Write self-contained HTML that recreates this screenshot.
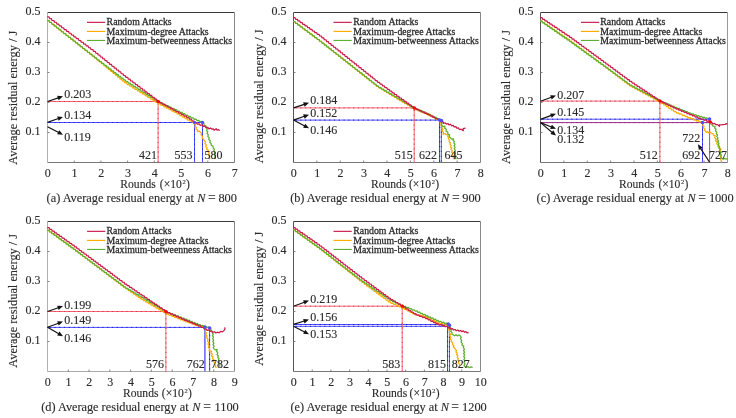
<!DOCTYPE html>
<html><head><meta charset="utf-8"><title>Average residual energy</title><style>
html,body{margin:0;padding:0;background:#fff;width:736px;height:418px;overflow:hidden}
svg{display:block;filter:blur(0.4px);}
text{font-family:"Liberation Serif", serif;fill:#2a2a2a;stroke:#2a2a2a;stroke-width:0.12px;}
.lg{stroke:#2a2a2a;stroke-width:0.28px}
</style></head><body>
<svg width="736" height="418" viewBox="0 0 736 418">
<rect width="736" height="418" fill="#fff"/>
<g fill="none">
<path d="M47.5 12.5H234.5" stroke="#3a3a3a" stroke-width="1"/>
<path d="M234.5 12.5V162.5" stroke="#888" stroke-width="1"/>
<path d="M47.5 162.5H234.5" stroke="#777" stroke-width="1"/>
<path d="M47.5 12.5V162.5" stroke="#b0b0b0" stroke-width="1"/>
<path d="M74.21 162.5V160.5" stroke="#777" stroke-width="0.9"/>
<path d="M100.93 162.5V160.5" stroke="#777" stroke-width="0.9"/>
<path d="M127.64 162.5V160.5" stroke="#777" stroke-width="0.9"/>
<path d="M154.36 162.5V160.5" stroke="#777" stroke-width="0.9"/>
<path d="M181.07 162.5V160.5" stroke="#777" stroke-width="0.9"/>
<path d="M207.79 162.5V160.5" stroke="#777" stroke-width="0.9"/>
<path d="M47.5 132.50H49.5" stroke="#777" stroke-width="0.9"/>
<path d="M47.5 102.50H49.5" stroke="#777" stroke-width="0.9"/>
<path d="M47.5 72.50H49.5" stroke="#777" stroke-width="0.9"/>
<path d="M47.5 42.50H49.5" stroke="#777" stroke-width="0.9"/>
<text x="40.50" y="134.80" font-size="12" text-anchor="end" >0.1</text>
<text x="40.50" y="104.80" font-size="12" text-anchor="end" >0.2</text>
<text x="40.50" y="74.80" font-size="12" text-anchor="end" >0.3</text>
<text x="40.50" y="44.80" font-size="12" text-anchor="end" >0.4</text>
<text x="40.50" y="14.80" font-size="12" text-anchor="end" >0.5</text>
<text x="47.80" y="176.50" font-size="12" text-anchor="middle" >0</text>
<text x="74.51" y="176.50" font-size="12" text-anchor="middle" >1</text>
<text x="101.23" y="176.50" font-size="12" text-anchor="middle" >2</text>
<text x="127.94" y="176.50" font-size="12" text-anchor="middle" >3</text>
<text x="154.66" y="176.50" font-size="12" text-anchor="middle" >4</text>
<text x="181.37" y="176.50" font-size="12" text-anchor="middle" >5</text>
<text x="208.09" y="176.50" font-size="12" text-anchor="middle" >6</text>
<text x="234.80" y="176.50" font-size="12" text-anchor="middle" >7</text>
<path d="M47.5 101.5H158.1" stroke="#f46474" stroke-width="1.0"/>
<path d="M49.5 101.5H158.1" stroke="#e8303f" stroke-width="1.0" stroke-dasharray="1.2 3.6"/>
<path d="M47.5 122.5H202.6" stroke="#4d4dff" stroke-width="1.0"/>
<path d="M49.5 122.5H202.6" stroke="#1c1ce6" stroke-width="1.0" stroke-dasharray="1.2 3.6"/>
<path d="M158.1 101.5V162.5" stroke="#f46474" stroke-width="1.0"/>
<path d="M158.1 103.5V162.5" stroke="#e8303f" stroke-width="1.0" stroke-dasharray="1.2 3.6"/>
<path d="M194.5 122.5V162.5" stroke="#4d4dff" stroke-width="1.0"/>
<path d="M194.5 124.5V162.5" stroke="#1c1ce6" stroke-width="1.0" stroke-dasharray="1.2 3.6"/>
<path d="M202.5 122.5V162.5" stroke="#4d4dff" stroke-width="1.0"/>
<path d="M202.5 124.5V162.5" stroke="#1c1ce6" stroke-width="1.0" stroke-dasharray="1.2 3.6"/>
<polyline points="47.19,20.39 49.00,20.55 49.56,22.27 51.37,22.43 51.94,24.15 53.75,24.31 54.31,26.03 56.12,26.19 56.69,27.91 58.50,28.07 59.06,29.79 60.87,29.95 61.44,31.67 63.25,31.83 63.81,33.55 65.62,33.71 66.19,35.43 68.00,35.59 68.56,37.31 70.37,37.47 70.94,39.19 72.75,39.35 73.31,41.07 75.12,41.23 75.69,42.95 77.50,43.11 78.06,44.83 79.87,44.99 80.44,46.71 82.25,46.87 82.81,48.59 84.62,48.75 85.19,50.47 87.00,50.63 87.56,52.35 89.37,52.51 89.94,54.23 91.75,54.39 92.31,56.11 94.12,56.27 94.68,57.98 96.47,58.17 96.99,59.90 98.78,60.09 99.30,61.82 101.09,62.00 101.60,63.73 103.40,63.92 103.91,65.65 105.70,65.83 106.22,67.56 108.01,67.75 108.53,69.48 110.32,69.67 110.83,71.39 112.63,71.58 113.14,73.31 114.93,73.50 115.45,75.22 117.24,75.41 117.76,77.14 119.55,77.33 120.07,79.05 121.86,79.24 122.37,80.97 124.17,81.16 124.74,82.92 126.56,82.88 127.33,84.54 129.15,84.50 129.92,86.16 131.75,86.11 132.51,87.77 134.34,87.73 135.10,89.39 136.93,89.34 137.70,91.00 139.52,90.96 140.29,92.62 142.11,92.58 142.88,94.23 144.71,94.19 145.47,95.85 147.30,95.81 148.07,97.46 149.89,97.42 150.66,99.08 152.48,99.04 153.25,100.69 155.08,100.65 155.84,102.31 157.67,102.27 158.47,103.94 160.29,103.76 161.19,105.36 163.01,105.18 163.90,106.78 165.72,106.60 166.62,108.19 168.44,108.01 169.34,109.61 171.16,109.43 172.05,111.03 173.87,110.85 174.75,112.43 176.55,112.34 177.35,113.97 179.15,113.88 179.95,115.51 181.75,115.42 182.55,117.05 184.35,116.96 185.15,118.59 186.95,118.50 187.80,120.16 189.46,119.78 190.32,121.24 191.98,120.86 192.84,122.32 194.78,122.26 194.19,123.84 195.53,124.86 194.94,126.44 196.25,127.38 195.95,129.02 197.45,129.78 197.50,131.69 199.20,131.01 200.12,131.95 201.56,133.19 201.08,135.03 202.52,136.27 202.04,138.11 203.28,139.08 204.31,140.82 205.65,142.02 205.03,143.70 206.37,144.90 205.75,146.58 207.05,147.68 206.75,149.32 208.25,150.08 207.91,151.61 209.23,152.95 208.59,154.73 209.91,156.07 209.27,157.85 210.10,159.30" fill="none" stroke="#ffab00" stroke-width="1.25" stroke-linejoin="round"/>
<polyline points="47.19,20.39 49.00,20.54 49.57,22.26 51.37,22.41 51.94,24.13 53.75,24.28 54.32,26.00 56.12,26.15 56.69,27.87 58.50,28.02 59.07,29.74 60.87,29.89 61.44,31.61 63.25,31.76 63.82,33.48 65.62,33.63 66.19,35.35 68.00,35.50 68.57,37.22 70.37,37.37 70.94,39.09 72.75,39.24 73.32,40.96 75.12,41.11 75.69,42.83 77.50,42.98 78.07,44.70 79.87,44.85 80.44,46.57 82.25,46.72 82.82,48.44 84.62,48.59 85.19,50.31 87.00,50.46 87.57,52.18 89.37,52.33 89.94,54.05 91.75,54.20 92.32,55.92 94.12,56.07 94.70,57.80 96.50,57.92 97.10,59.64 98.90,59.76 99.50,61.48 101.30,61.60 101.90,63.32 103.70,63.44 104.30,65.16 106.10,65.28 106.70,67.00 108.50,67.12 109.10,68.84 110.90,68.96 111.50,70.68 113.30,70.80 113.90,72.52 115.70,72.64 116.30,74.36 118.10,74.48 118.70,76.20 120.50,76.32 121.10,78.04 122.90,78.16 123.50,79.88 125.27,79.98 125.98,81.61 127.76,81.56 128.48,83.20 130.26,83.15 130.97,84.79 132.76,84.73 133.47,86.37 135.25,86.32 135.97,87.96 137.75,87.90 138.46,89.54 140.25,89.49 140.96,91.13 142.74,91.07 143.45,92.71 145.24,92.66 145.95,94.30 147.73,94.24 148.45,95.88 150.23,95.83 150.94,97.47 152.73,97.41 153.44,99.05 155.22,99.00 155.94,100.64 157.72,100.59 158.49,102.25 160.27,101.99 161.20,103.54 162.99,103.27 163.92,104.82 165.71,104.56 166.64,106.10 168.42,105.84 169.35,107.39 171.14,107.12 172.07,108.67 173.86,108.41 174.78,109.95 176.58,109.71 177.51,111.28 179.31,111.04 180.24,112.60 182.04,112.37 182.96,113.93 184.76,113.70 185.69,115.26 187.49,115.02 188.42,116.59 190.22,116.35 191.28,117.98 193.22,117.80 194.28,119.43 196.19,119.24 197.11,120.70 198.79,120.32 199.71,121.78 201.39,121.40 202.11,122.71 203.92,123.39 204.16,125.31 205.97,125.99 206.11,127.68 207.33,128.96 206.59,130.56 207.81,131.84 207.07,133.44 208.28,134.65 207.81,136.44 209.24,137.61 208.77,139.40 210.21,140.58 209.74,142.37 211.11,143.41 211.29,145.39 213.11,146.21 213.21,147.98 214.45,149.36 213.72,151.07 214.96,152.45 214.24,154.15 215.48,155.53 214.75,157.24 215.50,158.70" fill="none" stroke="#5cb030" stroke-width="1.25" stroke-linejoin="round"/>
<polyline points="47.20,16.80 49.02,16.91 49.64,18.62 51.45,18.72 52.07,20.43 53.89,20.54 54.51,22.25 56.32,22.35 56.94,24.06 58.76,24.17 59.38,25.88 61.20,25.98 61.82,27.69 63.63,27.80 64.25,29.51 66.07,29.61 66.69,31.32 68.50,31.43 69.12,33.14 70.94,33.25 71.56,34.95 73.38,35.06 74.00,36.77 75.81,36.88 76.43,38.59 78.25,38.69 78.87,40.40 80.68,40.51 81.30,42.22 83.12,42.32 83.74,44.03 85.56,44.14 86.18,45.85 87.99,45.95 88.61,47.66 90.43,47.77 91.05,49.48 92.86,49.58 93.48,51.29 95.31,51.41 95.84,53.12 97.62,53.27 98.15,54.98 99.93,55.13 100.46,56.84 102.24,57.00 102.76,58.70 104.54,58.86 105.07,60.57 106.85,60.72 107.38,62.43 109.16,62.58 109.69,64.29 111.47,64.44 111.99,66.15 113.78,66.30 114.30,68.01 116.08,68.16 116.61,69.87 118.39,70.03 118.92,71.74 120.70,71.89 121.22,73.60 123.01,73.75 123.53,75.46 125.30,75.60 125.90,77.30 127.70,77.41 128.30,79.11 130.10,79.22 130.70,80.92 132.50,81.02 133.10,82.73 134.90,82.83 135.50,84.54 137.30,84.64 137.90,86.34 139.70,86.45 140.30,88.15 142.10,88.26 142.70,89.96 144.50,90.06 145.10,91.77 146.90,91.87 147.50,93.58 149.30,93.68 149.90,95.38 151.70,95.49 152.30,97.19 154.10,97.30 154.69,98.99 156.55,99.21 157.15,100.99 158.94,101.16 159.82,102.78 161.66,102.64 162.54,104.26 164.37,104.13 165.25,105.75 167.09,105.61 167.97,107.23 169.81,107.09 170.69,108.71 172.52,108.58 173.40,110.20 175.24,110.06 176.12,111.68 177.97,111.55 178.85,113.18 180.69,113.04 181.58,114.67 183.42,114.53 184.31,116.16 186.15,116.02 187.03,117.65 188.88,117.52 189.70,119.10 191.50,119.20 192.10,120.90 193.90,121.00 194.50,122.70 196.17,122.73 197.33,124.22 199.17,123.83 200.33,125.32 202.20,124.94 203.20,126.46 205.00,126.14 206.00,127.66 207.80,127.34 208.97,128.90 210.53,128.00 211.74,129.03 213.26,128.77 214.14,130.28 216.18,128.73 217.06,130.13 218.64,129.67 219.70,130.60" fill="none" stroke="#cc1a48" stroke-width="1.25" stroke-linejoin="round"/>
<circle cx="158.2" cy="101.6" r="1.7" fill="#f00"/>
<circle cx="194.4" cy="122.4" r="1.7" fill="#4d4dff"/>
<circle cx="202.5" cy="122.4" r="1.7" fill="#4d4dff"/>
<line x1="47.50" y1="101.50" x2="58.35" y2="97.86" stroke="#111" stroke-width="1.15"/>
<polygon points="63.00,96.30 58.61,100.20 57.15,95.84" fill="#111"/>
<text x="64.30" y="98.20" font-size="12" text-anchor="start" >0.203</text>
<line x1="47.50" y1="122.40" x2="58.38" y2="118.54" stroke="#111" stroke-width="1.15"/>
<polygon points="63.00,116.90 58.68,120.87 57.14,116.54" fill="#111"/>
<text x="64.30" y="118.70" font-size="12" text-anchor="start" >0.134</text>
<line x1="47.50" y1="126.70" x2="58.66" y2="132.53" stroke="#111" stroke-width="1.15"/>
<polygon points="63.00,134.80 57.15,134.34 59.28,130.26" fill="#111"/>
<text x="64.30" y="140.70" font-size="12" text-anchor="start" >0.119</text>
<text x="139.10" y="158.90" font-size="12" text-anchor="start" >421</text>
<text x="174.50" y="158.90" font-size="12" text-anchor="start" >553</text>
<text x="204.50" y="158.90" font-size="12" text-anchor="start" >580</text>
<path d="M87 22.35H105.2" stroke="#cc1a48" stroke-width="1.15"/>
<text x="106.60" y="25.45" font-size="9.8" text-anchor="start" class="lg">Random Attacks</text>
<path d="M87 31.40H105.2" stroke="#ffab00" stroke-width="1.15"/>
<text x="106.60" y="34.50" font-size="9.8" text-anchor="start" class="lg">Maximum-degree Attacks</text>
<path d="M87 40.45H105.2" stroke="#5cb030" stroke-width="1.15"/>
<text x="106.60" y="43.55" font-size="9.8" text-anchor="start" class="lg">Maximum-betweenness Attacks</text>
<text x="120.35" y="187.70" font-size="11.6" text-anchor="start" >Rounds</text>
<text x="159.80" y="187.70" font-size="11.6" text-anchor="start" >(&#215;10<tspan font-size="6.4" dx="0.7" dy="-3.7">2</tspan><tspan dx="0.3" dy="3.7">)</tspan></text>
<text x="0" y="0" font-size="12.35" text-anchor="middle" transform="translate(16.80,97.7) rotate(-90)">Average residual energy / J</text>
<text x="46.55" y="201.70" font-size="12.3" text-anchor="start" textLength="147.3">(a) Average residual energy at</text>
<text x="197.16" y="201.70" font-size="12.3" text-anchor="start" font-style="italic">N</text>
<text x="207.88" y="201.70" font-size="13.7" text-anchor="start" >=</text>
<text x="218.41" y="201.70" font-size="12.4" text-anchor="start" >800</text>
<path d="M293.5 12.5H480.5" stroke="#3a3a3a" stroke-width="1"/>
<path d="M480.5 12.5V162.5" stroke="#888" stroke-width="1"/>
<path d="M293.5 162.5H480.5" stroke="#777" stroke-width="1"/>
<path d="M293.5 12.5V162.5" stroke="#555" stroke-width="1"/>
<path d="M316.88 162.5V160.5" stroke="#777" stroke-width="0.9"/>
<path d="M340.25 162.5V160.5" stroke="#777" stroke-width="0.9"/>
<path d="M363.62 162.5V160.5" stroke="#777" stroke-width="0.9"/>
<path d="M387.00 162.5V160.5" stroke="#777" stroke-width="0.9"/>
<path d="M410.38 162.5V160.5" stroke="#777" stroke-width="0.9"/>
<path d="M433.75 162.5V160.5" stroke="#777" stroke-width="0.9"/>
<path d="M457.12 162.5V160.5" stroke="#777" stroke-width="0.9"/>
<path d="M293.5 132.50H295.5" stroke="#777" stroke-width="0.9"/>
<path d="M293.5 102.50H295.5" stroke="#777" stroke-width="0.9"/>
<path d="M293.5 72.50H295.5" stroke="#777" stroke-width="0.9"/>
<path d="M293.5 42.50H295.5" stroke="#777" stroke-width="0.9"/>
<text x="286.50" y="134.80" font-size="12" text-anchor="end" >0.1</text>
<text x="286.50" y="104.80" font-size="12" text-anchor="end" >0.2</text>
<text x="286.50" y="74.80" font-size="12" text-anchor="end" >0.3</text>
<text x="286.50" y="44.80" font-size="12" text-anchor="end" >0.4</text>
<text x="286.50" y="14.80" font-size="12" text-anchor="end" >0.5</text>
<text x="293.80" y="176.50" font-size="12" text-anchor="middle" >0</text>
<text x="317.18" y="176.50" font-size="12" text-anchor="middle" >1</text>
<text x="340.55" y="176.50" font-size="12" text-anchor="middle" >2</text>
<text x="363.93" y="176.50" font-size="12" text-anchor="middle" >3</text>
<text x="387.30" y="176.50" font-size="12" text-anchor="middle" >4</text>
<text x="410.68" y="176.50" font-size="12" text-anchor="middle" >5</text>
<text x="434.05" y="176.50" font-size="12" text-anchor="middle" >6</text>
<text x="457.43" y="176.50" font-size="12" text-anchor="middle" >7</text>
<text x="480.80" y="176.50" font-size="12" text-anchor="middle" >8</text>
<path d="M293.5 107.9H414.3" stroke="#f46474" stroke-width="1.0"/>
<path d="M295.5 107.9H414.3" stroke="#e8303f" stroke-width="1.0" stroke-dasharray="1.2 3.6"/>
<path d="M293.5 120.1H441.3" stroke="#4d4dff" stroke-width="1.0"/>
<path d="M295.5 120.1H441.3" stroke="#1c1ce6" stroke-width="1.0" stroke-dasharray="1.2 3.6"/>
<path d="M414.2 107.9V162.5" stroke="#f46474" stroke-width="1.0"/>
<path d="M414.2 109.9V162.5" stroke="#e8303f" stroke-width="1.0" stroke-dasharray="1.2 3.6"/>
<path d="M439.5 120V162.5" stroke="#4d4dff" stroke-width="1.0"/>
<path d="M439.5 122V162.5" stroke="#1c1ce6" stroke-width="1.0" stroke-dasharray="1.2 3.6"/>
<path d="M441.3 120V162.5" stroke="#4d4dff" stroke-width="1.0"/>
<path d="M441.3 122V162.5" stroke="#1c1ce6" stroke-width="1.0" stroke-dasharray="1.2 3.6"/>
<polyline points="293.20,21.50 295.00,21.60 295.61,23.30 297.41,23.40 298.02,25.10 299.82,25.20 300.43,26.90 302.23,27.00 302.84,28.70 304.64,28.80 305.25,30.50 307.05,30.60 307.66,32.30 309.46,32.40 310.06,34.10 311.87,34.20 312.47,35.90 314.28,36.00 314.88,37.70 316.69,37.80 317.29,39.50 319.09,39.60 319.69,41.29 321.49,41.44 322.06,43.17 323.86,43.32 324.42,45.04 326.23,45.19 326.79,46.91 328.60,47.07 329.16,48.79 330.96,48.94 331.53,50.66 333.33,50.81 333.89,52.53 335.70,52.69 336.26,54.41 338.07,54.56 338.63,56.28 340.43,56.43 341.00,58.15 342.80,58.31 343.36,60.03 345.17,60.18 345.73,61.90 347.53,62.05 348.10,63.77 349.90,63.93 350.47,65.65 352.27,65.80 352.83,67.52 354.64,67.67 355.20,69.39 357.00,69.55 357.57,71.27 359.37,71.42 359.93,73.14 361.74,73.29 362.30,75.01 364.11,75.17 364.67,76.89 366.47,77.04 367.04,78.76 368.84,78.91 369.40,80.63 371.21,80.79 371.77,82.51 373.58,82.66 374.14,84.38 375.94,84.53 376.51,86.26 378.26,86.37 379.03,88.02 380.85,87.95 381.62,89.59 383.44,89.53 384.21,91.17 386.02,91.10 386.80,92.74 388.61,92.68 389.39,94.32 391.20,94.26 391.98,95.90 393.79,95.83 394.56,97.47 396.38,97.41 397.15,99.05 398.97,98.98 399.75,100.63 401.55,100.53 402.35,102.16 404.15,102.06 404.95,103.69 406.75,103.59 407.55,105.21 409.35,105.11 410.15,106.74 411.95,106.64 412.75,108.27 414.50,108.14 415.47,109.66 417.24,109.34 418.21,110.86 419.98,110.54 420.95,112.06 422.72,111.74 423.69,113.26 425.46,112.94 426.43,114.46 428.21,114.15 429.08,115.65 430.79,115.35 431.66,116.85 433.37,116.55 434.23,118.05 435.94,117.75 436.81,119.25 438.52,118.95 439.13,120.17 440.53,121.11 440.05,122.73 441.45,123.67 440.97,125.29 442.39,126.31 441.67,127.95 442.91,129.23 442.19,130.87 443.43,132.15 443.11,134.19 444.94,133.51 446.26,134.74 448.29,134.88 447.64,136.44 448.94,137.53 448.29,139.09 449.57,140.14 449.06,141.76 450.44,142.74 449.91,144.30 451.16,145.42 450.46,146.95 451.71,148.07 451.01,149.61 452.29,150.69 451.61,152.21 452.88,153.25 452.36,154.89 453.74,155.91 453.23,157.57 454.40,159.30" fill="none" stroke="#ffab00" stroke-width="1.25" stroke-linejoin="round"/>
<polyline points="293.20,21.50 295.00,21.59 295.61,23.29 297.41,23.39 298.02,25.08 299.82,25.18 300.43,26.87 302.23,26.97 302.84,28.66 304.64,28.76 305.25,30.46 307.05,30.55 307.66,32.25 309.46,32.34 310.07,34.04 311.87,34.13 312.47,35.83 314.28,35.92 314.88,37.62 316.68,37.71 317.29,39.41 319.09,39.50 319.69,41.19 321.49,41.34 322.06,43.05 323.86,43.20 324.43,44.92 326.23,45.06 326.79,46.78 328.59,46.92 329.16,48.64 330.96,48.78 331.53,50.50 333.33,50.64 333.90,52.36 335.70,52.50 336.26,54.22 338.06,54.37 338.63,56.08 340.43,56.23 341.00,57.94 342.80,58.09 343.36,59.81 345.17,59.95 345.73,61.67 347.53,61.81 348.10,63.53 349.90,63.67 350.47,65.39 352.27,65.53 352.83,67.25 354.64,67.39 355.20,69.11 357.00,69.26 357.57,70.97 359.37,71.12 359.94,72.83 361.74,72.98 362.30,74.70 364.10,74.84 364.67,76.56 366.47,76.70 367.04,78.42 368.84,78.56 369.41,80.28 371.21,80.42 371.77,82.14 373.57,82.28 374.14,84.00 375.94,84.15 376.51,85.86 378.25,85.97 379.04,87.59 380.84,87.49 381.63,89.11 383.43,89.00 384.22,90.63 386.02,90.52 386.81,92.14 388.61,92.04 389.39,93.66 391.19,93.56 391.98,95.18 393.78,95.07 394.57,96.70 396.37,96.59 397.16,98.21 398.96,98.11 399.74,99.73 401.56,99.66 402.34,101.31 404.16,101.25 404.94,102.89 406.76,102.83 407.54,104.47 409.36,104.41 410.14,106.05 411.96,105.99 412.74,107.64 414.49,107.54 415.48,109.04 417.23,108.70 418.22,110.20 419.97,109.86 420.96,111.36 422.71,111.02 423.70,112.52 425.45,112.18 426.44,113.68 428.23,113.35 429.11,114.92 430.89,114.71 431.77,116.28 433.56,116.07 434.44,117.63 436.23,117.42 437.11,118.99 438.89,118.78 439.81,120.36 442.00,120.46 441.10,121.86 442.20,123.11 441.30,124.51 442.01,125.31 443.09,126.59 444.96,126.20 444.71,128.13 446.29,129.27 446.08,131.27 447.79,132.06 447.81,133.94 449.57,134.82 449.28,136.83 450.51,137.81 451.64,139.09 453.58,138.75 453.06,140.39 454.44,141.41 453.90,142.93 454.98,144.37 454.07,145.93 455.16,147.37 454.24,148.93 455.33,150.37 454.42,151.93 455.49,153.29 454.84,154.98 456.14,156.24 455.49,157.93 456.30,159.30" fill="none" stroke="#5cb030" stroke-width="1.25" stroke-linejoin="round"/>
<polyline points="293.21,17.61 294.99,17.63 295.62,19.28 297.40,19.30 298.03,20.96 299.81,20.97 300.44,22.63 302.22,22.64 302.85,24.30 304.63,24.32 305.26,25.97 307.04,25.99 307.67,27.65 309.44,27.66 310.08,29.32 311.85,29.33 312.49,30.99 314.26,31.01 314.90,32.67 316.67,32.68 317.31,34.34 319.08,34.35 319.69,35.99 321.47,36.14 322.01,37.85 323.79,37.99 324.33,39.70 326.11,39.85 326.65,41.56 328.43,41.71 328.97,43.41 330.75,43.56 331.29,45.27 333.07,45.42 333.61,47.13 335.39,47.27 335.93,48.98 337.71,49.13 338.25,50.84 340.03,50.99 340.57,52.69 342.35,52.84 342.89,54.55 344.67,54.70 345.21,56.41 346.99,56.55 347.53,58.26 349.31,58.41 349.85,60.12 351.63,60.27 352.17,61.97 353.95,62.12 354.49,63.83 356.27,63.98 356.81,65.69 358.59,65.83 359.13,67.54 360.91,67.69 361.45,69.40 363.23,69.55 363.77,71.25 365.55,71.40 366.09,73.11 367.87,73.26 368.41,74.97 370.19,75.11 370.73,76.82 372.51,76.97 373.05,78.68 374.83,78.83 375.37,80.53 377.15,80.68 377.71,82.41 379.50,82.46 380.13,84.13 381.92,84.18 382.55,85.86 384.34,85.91 384.97,87.59 386.76,87.64 387.39,89.31 389.18,89.36 389.81,91.04 391.60,91.09 392.23,92.77 394.02,92.82 394.65,94.49 396.44,94.54 397.07,96.22 398.86,96.27 399.49,97.95 401.28,98.00 401.91,99.67 403.70,99.72 404.33,101.40 406.12,101.45 406.75,103.13 408.54,103.18 409.17,104.85 410.96,104.90 411.59,106.58 413.38,106.63 414.09,108.35 415.88,108.08 416.83,109.61 418.62,109.34 419.57,110.87 421.36,110.60 422.31,112.13 424.10,111.86 425.05,113.39 426.84,113.12 427.77,114.65 429.56,114.43 430.44,116.00 432.23,115.79 433.11,117.36 434.89,117.14 435.77,118.71 437.56,118.50 438.44,120.07 440.28,119.89 440.98,121.58 442.82,121.62 443.67,123.38 445.25,122.78 446.31,124.10 447.89,123.50 448.95,124.82 450.61,124.24 451.52,125.76 453.26,125.44 454.17,126.96 455.92,126.65 456.78,128.20 458.52,127.95 459.38,129.50 461.07,129.23 463.35,130.62 463.10,128.88 464.06,128.28 465.60,128.20" fill="none" stroke="#cc1a48" stroke-width="1.25" stroke-linejoin="round"/>
<circle cx="414.3" cy="108" r="1.7" fill="#f00"/>
<circle cx="439.6" cy="119.9" r="1.7" fill="#4d4dff"/>
<circle cx="441.5" cy="120.5" r="1.7" fill="#4d4dff"/>
<line x1="293.50" y1="107.90" x2="304.35" y2="104.33" stroke="#111" stroke-width="1.15"/>
<polygon points="309.00,102.80 304.59,106.67 303.15,102.30" fill="#111"/>
<text x="310.30" y="104.30" font-size="12" text-anchor="start" >0.184</text>
<line x1="293.50" y1="120.10" x2="304.37" y2="116.31" stroke="#111" stroke-width="1.15"/>
<polygon points="309.00,114.70 304.66,118.65 303.14,114.30" fill="#111"/>
<text x="310.30" y="117.30" font-size="12" text-anchor="start" >0.152</text>
<line x1="293.50" y1="120.10" x2="304.67" y2="126.01" stroke="#111" stroke-width="1.15"/>
<polygon points="309.00,128.30 303.15,127.81 305.30,123.74" fill="#111"/>
<text x="310.30" y="133.80" font-size="12" text-anchor="start" >0.146</text>
<text x="394.70" y="158.90" font-size="12" text-anchor="start" >515</text>
<text x="419.10" y="158.90" font-size="12" text-anchor="start" >622</text>
<text x="444.50" y="158.90" font-size="12" text-anchor="start" >645</text>
<path d="M333.5 22.35H351.7" stroke="#cc1a48" stroke-width="1.15"/>
<text x="353.30" y="25.45" font-size="9.8" text-anchor="start" class="lg">Random Attacks</text>
<path d="M333.5 31.40H351.7" stroke="#ffab00" stroke-width="1.15"/>
<text x="353.30" y="34.50" font-size="9.8" text-anchor="start" class="lg">Maximum-degree Attacks</text>
<path d="M333.5 40.45H351.7" stroke="#5cb030" stroke-width="1.15"/>
<text x="353.30" y="43.55" font-size="9.8" text-anchor="start" class="lg">Maximum-betweenness Attacks</text>
<text x="370.95" y="187.70" font-size="11.6" text-anchor="start" >Rounds</text>
<text x="409.00" y="187.70" font-size="11.6" text-anchor="start" >(&#215;10<tspan font-size="6.4" dx="0.7" dy="-3.7">2</tspan><tspan dx="0.3" dy="3.7">)</tspan></text>
<text x="0" y="0" font-size="12.35" text-anchor="middle" transform="translate(262.80,96.3) rotate(-90)">Average residual energy / J</text>
<text x="290.15" y="201.70" font-size="12.3" text-anchor="start" textLength="147.3">(b) Average residual energy at</text>
<text x="441.06" y="201.70" font-size="12.3" text-anchor="start" font-style="italic">N</text>
<text x="451.88" y="201.70" font-size="13.7" text-anchor="start" >=</text>
<text x="462.21" y="201.70" font-size="12.4" text-anchor="start" >900</text>
<path d="M540.5 12.5H727.5" stroke="#3a3a3a" stroke-width="1"/>
<path d="M727.5 12.5V162.5" stroke="#999" stroke-width="1"/>
<path d="M540.5 162.5H727.5" stroke="#777" stroke-width="1"/>
<path d="M540.5 12.5V162.5" stroke="#555" stroke-width="1"/>
<path d="M563.88 162.5V160.5" stroke="#777" stroke-width="0.9"/>
<path d="M587.25 162.5V160.5" stroke="#777" stroke-width="0.9"/>
<path d="M610.62 162.5V160.5" stroke="#777" stroke-width="0.9"/>
<path d="M634.00 162.5V160.5" stroke="#777" stroke-width="0.9"/>
<path d="M657.38 162.5V160.5" stroke="#777" stroke-width="0.9"/>
<path d="M680.75 162.5V160.5" stroke="#777" stroke-width="0.9"/>
<path d="M704.12 162.5V160.5" stroke="#777" stroke-width="0.9"/>
<path d="M540.5 132.50H542.5" stroke="#777" stroke-width="0.9"/>
<path d="M540.5 102.50H542.5" stroke="#777" stroke-width="0.9"/>
<path d="M540.5 72.50H542.5" stroke="#777" stroke-width="0.9"/>
<path d="M540.5 42.50H542.5" stroke="#777" stroke-width="0.9"/>
<text x="533.50" y="134.80" font-size="12" text-anchor="end" >0.1</text>
<text x="533.50" y="104.80" font-size="12" text-anchor="end" >0.2</text>
<text x="533.50" y="74.80" font-size="12" text-anchor="end" >0.3</text>
<text x="533.50" y="44.80" font-size="12" text-anchor="end" >0.4</text>
<text x="533.50" y="14.80" font-size="12" text-anchor="end" >0.5</text>
<text x="540.80" y="176.50" font-size="12" text-anchor="middle" >0</text>
<text x="564.17" y="176.50" font-size="12" text-anchor="middle" >1</text>
<text x="587.55" y="176.50" font-size="12" text-anchor="middle" >2</text>
<text x="610.92" y="176.50" font-size="12" text-anchor="middle" >3</text>
<text x="634.30" y="176.50" font-size="12" text-anchor="middle" >4</text>
<text x="657.67" y="176.50" font-size="12" text-anchor="middle" >5</text>
<text x="681.05" y="176.50" font-size="12" text-anchor="middle" >6</text>
<text x="704.42" y="176.50" font-size="12" text-anchor="middle" >7</text>
<text x="727.80" y="176.50" font-size="12" text-anchor="middle" >8</text>
<path d="M540.5 101.1H659.9" stroke="#f46474" stroke-width="1.0"/>
<path d="M542.5 101.1H659.9" stroke="#e8303f" stroke-width="1.0" stroke-dasharray="1.2 3.6"/>
<path d="M540.5 119.2H709.6" stroke="#4d4dff" stroke-width="1.0"/>
<path d="M542.5 119.2H709.6" stroke="#1c1ce6" stroke-width="1.0" stroke-dasharray="1.2 3.6"/>
<path d="M540.5 122.6H710" stroke="#9a2a8a" stroke-width="1.0"/>
<path d="M542.5 122.6H710" stroke="#9a2a8a" stroke-width="1.0" stroke-dasharray="1.2 3.6"/>
<path d="M659.9 101.1V162.5" stroke="#f46474" stroke-width="1.0"/>
<path d="M659.9 103.1V162.5" stroke="#e8303f" stroke-width="1.0" stroke-dasharray="1.2 3.6"/>
<path d="M702.5 122.5V162.5" stroke="#4d4dff" stroke-width="1.0"/>
<path d="M702.5 124.5V162.5" stroke="#1c1ce6" stroke-width="1.0" stroke-dasharray="1.2 3.6"/>
<path d="M709.6 122V162.5" stroke="#b848a8" stroke-width="1.0"/>
<path d="M709.6 124V162.5" stroke="#b848a8" stroke-width="1.0" stroke-dasharray="1.2 3.6"/>
<polyline points="540.22,20.91 542.01,20.92 542.68,22.59 544.47,22.60 545.14,24.26 546.93,24.27 547.59,25.94 549.39,25.95 550.05,27.61 551.84,27.62 552.51,29.29 554.30,29.30 554.97,30.96 556.76,30.97 557.43,32.64 559.22,32.65 559.89,34.31 561.68,34.32 562.34,35.99 564.14,36.00 564.80,37.66 566.59,37.67 567.26,39.34 569.05,39.35 569.70,41.00 571.51,41.10 572.13,42.80 573.93,42.90 574.55,44.60 576.36,44.70 576.97,46.40 578.78,46.50 579.40,48.20 581.21,48.30 581.82,50.00 583.63,50.10 584.25,51.80 586.06,51.90 586.67,53.60 588.48,53.70 589.10,55.40 590.90,55.50 591.52,57.20 593.33,57.30 593.94,59.00 595.75,59.10 596.37,60.80 598.18,60.90 598.79,62.60 600.60,62.70 601.22,64.40 603.03,64.50 603.64,66.20 605.45,66.30 606.07,68.00 607.87,68.10 608.49,69.80 610.30,69.90 610.87,71.59 612.66,71.69 613.23,73.38 615.01,73.48 615.58,75.17 617.36,75.27 617.93,76.96 619.71,77.05 620.29,78.75 622.07,78.84 622.64,80.53 624.42,80.63 624.99,82.32 626.77,82.42 627.34,84.11 629.13,84.21 629.76,85.94 631.56,85.78 632.41,87.37 634.22,87.21 635.07,88.81 636.87,88.65 637.72,90.24 639.52,90.08 640.37,91.68 642.17,91.52 643.02,93.11 644.82,92.95 645.68,94.55 647.48,94.39 648.33,95.98 650.13,95.82 650.98,97.42 652.78,97.26 653.63,98.85 655.43,98.69 656.28,100.29 658.09,100.13 658.94,101.72 660.78,101.58 661.47,103.25 663.28,103.25 663.97,104.92 665.78,104.92 666.47,106.58 668.28,106.58 668.97,108.25 670.78,108.25 671.47,109.92 673.28,109.92 673.97,111.58 675.69,111.54 676.76,113.07 678.59,112.76 679.66,114.29 681.49,113.98 682.56,115.51 684.39,115.20 685.46,116.73 687.29,116.42 688.36,117.95 690.17,117.63 691.22,119.06 692.94,118.61 694.00,120.04 695.72,119.58 696.78,121.02 698.50,120.56 699.56,121.99 701.28,121.54 702.02,122.63 703.33,123.72 702.72,125.33 704.03,126.42 703.43,128.08 704.83,128.92 704.37,130.48 705.45,131.02 706.25,132.33 707.58,131.71 708.85,132.93 710.45,132.17 711.45,133.25 713.12,133.51 713.38,135.19 715.18,135.67 714.69,137.60 716.11,139.00 715.63,140.97 717.09,142.05 716.68,143.82 718.14,144.90 717.92,146.91 719.58,146.84 719.90,148.02 720.97,149.41 720.04,150.88 721.11,152.27 720.18,153.74 721.25,155.13 720.32,156.60 721.39,157.99 720.46,159.46 721.53,160.85 721.10,162.30" fill="none" stroke="#ffab00" stroke-width="1.25" stroke-linejoin="round"/>
<polyline points="540.22,21.21 542.01,21.24 542.67,22.91 544.47,22.94 545.13,24.61 546.93,24.64 547.59,26.31 549.39,26.34 550.05,28.01 551.85,28.04 552.51,29.71 554.31,29.74 554.97,31.41 556.76,31.44 557.42,33.11 559.22,33.14 559.88,34.81 561.68,34.84 562.34,36.51 564.14,36.54 564.80,38.21 566.60,38.24 567.26,39.91 569.06,39.94 569.71,41.61 571.50,41.67 572.13,43.35 573.93,43.41 574.56,45.10 576.35,45.16 576.98,46.84 578.78,46.90 579.40,48.59 581.20,48.65 581.83,50.33 583.63,50.39 584.25,52.08 586.05,52.14 586.68,53.82 588.47,53.89 589.10,55.57 590.90,55.63 591.53,57.31 593.32,57.38 593.95,59.06 595.75,59.12 596.37,60.81 598.17,60.87 598.80,62.55 600.60,62.61 601.22,64.30 603.02,64.36 603.65,66.04 605.44,66.10 606.07,67.79 607.87,67.85 608.50,69.53 610.30,69.60 610.88,71.27 612.65,71.34 613.23,73.01 615.00,73.08 615.58,74.75 617.36,74.82 617.94,76.50 619.71,76.56 620.29,78.24 622.06,78.30 622.64,79.98 624.42,80.05 625.00,81.72 626.77,81.79 627.35,83.46 629.12,83.53 629.77,85.24 631.56,85.06 632.42,86.64 634.21,86.46 635.07,88.04 636.86,87.86 637.72,89.44 639.52,89.26 640.38,90.84 642.17,90.66 643.03,92.24 644.82,92.06 645.68,93.64 647.47,93.46 648.33,95.04 650.12,94.86 650.98,96.44 652.78,96.26 653.64,97.84 655.43,97.66 656.29,99.24 658.08,99.06 658.94,100.64 660.70,100.44 661.62,101.93 663.34,101.59 664.26,103.08 665.97,102.73 666.89,104.22 668.61,103.88 669.53,105.37 671.24,105.02 672.16,106.51 673.88,106.17 674.81,107.66 676.55,107.29 677.54,108.77 679.28,108.40 680.27,109.88 682.01,109.51 682.99,110.99 684.73,110.62 685.72,112.10 687.46,111.73 688.45,113.21 690.15,112.82 691.28,114.23 693.01,113.74 694.13,115.15 695.87,114.65 696.99,116.06 698.72,115.57 699.87,116.98 701.50,116.37 702.62,117.70 704.24,117.09 705.36,118.41 706.98,117.80 708.10,119.13 710.07,118.83 709.68,120.67 711.17,121.83 710.78,123.67 712.03,124.56 713.02,126.19 715.18,126.36 714.64,128.08 716.02,129.24 715.48,130.96 716.86,132.12 716.31,133.78 717.53,135.04 716.77,136.61 717.99,137.87 717.24,139.45 718.46,140.70 717.71,142.29 718.97,143.54 718.26,145.17 719.52,146.42 718.81,148.04 720.07,149.29 719.36,150.92 720.62,152.17 719.92,153.83 721.35,155.23 720.85,157.17 721.80,158.20 723.22,159.20 724.65,158.20 726.08,159.20 727.50,158.70" fill="none" stroke="#5cb030" stroke-width="1.25" stroke-linejoin="round"/>
<polyline points="540.22,17.62 542.01,17.61 542.68,19.26 544.47,19.25 545.14,20.90 546.92,20.89 547.60,22.54 549.38,22.53 550.06,24.18 551.84,24.17 552.51,25.82 554.30,25.81 554.97,27.47 556.76,27.46 557.43,29.11 559.22,29.10 559.89,30.75 561.67,30.74 562.35,32.39 564.13,32.38 564.81,34.03 566.59,34.02 567.26,35.67 569.05,35.66 569.70,37.30 571.51,37.38 572.13,39.08 573.93,39.16 574.55,40.85 576.36,40.94 576.98,42.63 578.78,42.71 579.40,44.41 581.20,44.49 581.83,46.18 583.63,46.26 584.25,47.96 586.05,48.04 586.67,49.73 588.48,49.81 589.10,51.51 590.90,51.59 591.52,53.29 593.33,53.37 593.95,55.06 595.75,55.14 596.37,56.84 598.17,56.92 598.80,58.61 600.60,58.69 601.22,60.39 603.02,60.47 603.64,62.16 605.45,62.25 606.07,63.94 607.87,64.02 608.49,65.72 610.30,65.80 610.88,67.47 612.65,67.54 613.23,69.21 615.00,69.28 615.58,70.95 617.36,71.02 617.94,72.70 619.71,72.76 620.29,74.44 622.06,74.50 622.64,76.18 624.42,76.25 625.00,77.92 626.77,77.99 627.35,79.66 629.12,79.73 629.72,81.42 631.55,81.42 632.27,83.09 634.09,83.10 634.81,84.77 636.63,84.77 637.35,86.44 639.17,86.45 639.89,88.12 641.71,88.12 642.43,89.79 644.25,89.80 644.97,91.47 646.80,91.47 647.52,93.14 649.34,93.15 650.06,94.82 651.88,94.82 652.60,96.49 654.42,96.50 655.14,98.17 656.96,98.17 657.68,99.84 659.50,99.85 660.29,101.55 662.03,101.28 662.92,102.81 664.67,102.53 665.56,104.06 667.31,103.78 668.19,105.32 669.94,105.04 670.83,106.57 672.58,106.29 673.47,107.82 675.19,107.54 676.17,109.03 677.92,108.68 678.90,110.18 680.65,109.83 681.62,111.32 683.38,110.98 684.35,112.47 686.10,112.12 687.08,113.62 688.83,113.27 689.81,114.76 691.62,114.44 692.66,115.96 694.48,115.64 695.52,117.16 697.34,116.84 698.38,118.36 700.16,118.03 701.28,119.46 703.05,119.00 704.17,120.43 705.93,119.97 707.05,121.40 708.82,120.94 709.86,122.34 711.79,122.26 712.89,123.99 714.61,123.36 715.76,124.64 717.74,124.56 719.27,126.22 719.73,124.73 720.88,124.99 722.78,124.55 724.94,124.50 726.31,123.65 727.50,124.30" fill="none" stroke="#cc1a48" stroke-width="1.25" stroke-linejoin="round"/>
<circle cx="660" cy="101.1" r="1.7" fill="#f00"/>
<circle cx="709.6" cy="119" r="1.7" fill="#4d4dff"/>
<circle cx="702.5" cy="122.5" r="1.7" fill="#4d4dff"/>
<circle cx="710.1" cy="121.9" r="1.7" fill="#f00"/>
<line x1="540.50" y1="101.20" x2="551.39" y2="97.26" stroke="#111" stroke-width="1.15"/>
<polygon points="556.00,95.60 551.70,99.60 550.14,95.27" fill="#111"/>
<text x="557.30" y="98.60" font-size="12" text-anchor="start" >0.207</text>
<line x1="540.50" y1="119.40" x2="551.40" y2="115.39" stroke="#111" stroke-width="1.15"/>
<polygon points="556.00,113.70 551.73,117.72 550.14,113.41" fill="#111"/>
<text x="557.30" y="115.80" font-size="12" text-anchor="start" >0.145</text>
<line x1="540.50" y1="122.60" x2="551.45" y2="126.98" stroke="#111" stroke-width="1.15"/>
<polygon points="556.00,128.80 550.13,128.93 551.84,124.66" fill="#111"/>
<text x="557.30" y="133.90" font-size="12" text-anchor="start" >0.134</text>
<line x1="540.50" y1="122.60" x2="552.25" y2="132.45" stroke="#111" stroke-width="1.15"/>
<polygon points="556.00,135.60 550.38,133.89 553.34,130.37" fill="#111"/>
<text x="557.30" y="143.20" font-size="12" text-anchor="start" >0.132</text>
<text x="639.80" y="158.90" font-size="12" text-anchor="start" >512</text>
<text x="682.30" y="158.90" font-size="12" text-anchor="start" >692</text>
<text x="709.10" y="158.90" font-size="12" text-anchor="start" >727</text>
<path d="M581 22.35H599.2" stroke="#cc1a48" stroke-width="1.15"/>
<text x="600.30" y="25.45" font-size="9.8" text-anchor="start" class="lg">Random Attacks</text>
<path d="M581 31.40H599.2" stroke="#ffab00" stroke-width="1.15"/>
<text x="600.30" y="34.50" font-size="9.8" text-anchor="start" class="lg">Maximum-degree Attacks</text>
<path d="M581 40.45H599.2" stroke="#5cb030" stroke-width="1.15"/>
<text x="600.30" y="43.55" font-size="9.8" text-anchor="start" class="lg">Maximum-betweenness Attacks</text>
<text x="619.05" y="187.70" font-size="11.6" text-anchor="start" >Rounds</text>
<text x="658.40" y="187.70" font-size="11.6" text-anchor="start" >(&#215;10<tspan font-size="6.4" dx="0.7" dy="-3.7">2</tspan><tspan dx="0.3" dy="3.7">)</tspan></text>
<text x="0" y="0" font-size="12.35" text-anchor="middle" transform="translate(509.80,97.0) rotate(-90)">Average residual energy / J</text>
<text x="536.55" y="201.70" font-size="12.3" text-anchor="start" textLength="147.3">(c) Average residual energy at</text>
<text x="687.46" y="201.70" font-size="12.3" text-anchor="start" font-style="italic">N</text>
<text x="698.28" y="201.70" font-size="13.7" text-anchor="start" >=</text>
<text x="708.89" y="201.70" font-size="12.4" text-anchor="start" >1000</text>
<path d="M47.5 221.5H234.5" stroke="#3a3a3a" stroke-width="1"/>
<path d="M234.5 221.5V371.5" stroke="#888" stroke-width="1"/>
<path d="M47.5 371.5H234.5" stroke="#aaa" stroke-width="1"/>
<path d="M47.5 221.5V371.5" stroke="#b0b0b0" stroke-width="1"/>
<path d="M68.28 371.5V369.5" stroke="#777" stroke-width="0.9"/>
<path d="M89.06 371.5V369.5" stroke="#777" stroke-width="0.9"/>
<path d="M109.83 371.5V369.5" stroke="#777" stroke-width="0.9"/>
<path d="M130.61 371.5V369.5" stroke="#777" stroke-width="0.9"/>
<path d="M151.39 371.5V369.5" stroke="#777" stroke-width="0.9"/>
<path d="M172.17 371.5V369.5" stroke="#777" stroke-width="0.9"/>
<path d="M192.94 371.5V369.5" stroke="#777" stroke-width="0.9"/>
<path d="M213.72 371.5V369.5" stroke="#777" stroke-width="0.9"/>
<path d="M47.5 341.50H49.5" stroke="#777" stroke-width="0.9"/>
<path d="M47.5 311.50H49.5" stroke="#777" stroke-width="0.9"/>
<path d="M47.5 281.50H49.5" stroke="#777" stroke-width="0.9"/>
<path d="M47.5 251.50H49.5" stroke="#777" stroke-width="0.9"/>
<text x="40.50" y="343.80" font-size="12" text-anchor="end" >0.1</text>
<text x="40.50" y="313.80" font-size="12" text-anchor="end" >0.2</text>
<text x="40.50" y="283.80" font-size="12" text-anchor="end" >0.3</text>
<text x="40.50" y="253.80" font-size="12" text-anchor="end" >0.4</text>
<text x="40.50" y="223.80" font-size="12" text-anchor="end" >0.5</text>
<text x="47.80" y="385.50" font-size="12" text-anchor="middle" >0</text>
<text x="68.58" y="385.50" font-size="12" text-anchor="middle" >1</text>
<text x="89.36" y="385.50" font-size="12" text-anchor="middle" >2</text>
<text x="110.13" y="385.50" font-size="12" text-anchor="middle" >3</text>
<text x="130.91" y="385.50" font-size="12" text-anchor="middle" >4</text>
<text x="151.69" y="385.50" font-size="12" text-anchor="middle" >5</text>
<text x="172.47" y="385.50" font-size="12" text-anchor="middle" >6</text>
<text x="193.24" y="385.50" font-size="12" text-anchor="middle" >7</text>
<text x="214.02" y="385.50" font-size="12" text-anchor="middle" >8</text>
<text x="234.80" y="385.50" font-size="12" text-anchor="middle" >9</text>
<path d="M47.5 311.5H165.9" stroke="#f46474" stroke-width="1.0"/>
<path d="M49.5 311.5H165.9" stroke="#e8303f" stroke-width="1.0" stroke-dasharray="1.2 3.6"/>
<path d="M47.5 327.4H209.7" stroke="#4d4dff" stroke-width="1.0"/>
<path d="M49.5 327.4H209.7" stroke="#1c1ce6" stroke-width="1.0" stroke-dasharray="1.2 3.6"/>
<path d="M165.9 311.5V371.5" stroke="#f46474" stroke-width="1.0"/>
<path d="M165.9 313.5V371.5" stroke="#e8303f" stroke-width="1.0" stroke-dasharray="1.2 3.6"/>
<path d="M204.5 327V371.5" stroke="#7777ff" stroke-width="1.0"/>
<path d="M204.5 329V371.5" stroke="#7777ff" stroke-width="1.0" stroke-dasharray="1.2 3.6"/>
<path d="M205.5 327V371.5" stroke="#9999ff" stroke-width="1.0"/>
<path d="M205.5 329V371.5" stroke="#9999ff" stroke-width="1.0" stroke-dasharray="1.2 3.6"/>
<path d="M209.6 328V371.5" stroke="#4d4dff" stroke-width="1.0"/>
<path d="M209.6 330V371.5" stroke="#1c1ce6" stroke-width="1.0" stroke-dasharray="1.2 3.6"/>
<polyline points="47.21,230.20 48.99,230.27 49.60,231.94 51.38,232.00 51.99,233.68 53.77,233.74 54.38,235.42 56.16,235.48 56.77,237.16 58.55,237.22 59.16,238.90 60.95,238.96 61.55,240.64 63.34,240.70 63.95,242.38 65.73,242.44 66.34,244.12 68.12,244.18 68.73,245.86 70.51,245.92 71.12,247.60 72.90,247.66 73.51,249.33 75.30,249.40 75.89,251.10 77.68,251.20 78.27,252.90 80.06,253.00 80.65,254.70 82.44,254.80 83.03,256.50 84.83,256.60 85.41,258.30 87.21,258.40 87.79,260.10 89.59,260.20 90.17,261.90 91.97,262.00 92.56,263.70 94.35,263.80 94.94,265.50 96.73,265.60 97.32,267.30 99.11,267.40 99.70,269.10 101.49,269.20 102.08,270.90 103.87,271.00 104.46,272.70 106.25,272.80 106.84,274.50 108.63,274.60 109.22,276.30 111.02,276.40 111.60,278.10 113.40,278.20 113.98,279.90 115.78,280.00 116.37,281.70 118.16,281.80 118.75,283.50 120.54,283.60 121.13,285.30 122.92,285.40 123.51,287.10 125.28,287.19 125.97,288.88 127.78,288.92 128.47,290.61 130.28,290.66 130.97,292.34 132.78,292.39 133.47,294.08 135.28,294.12 135.97,295.81 137.78,295.86 138.47,297.54 140.25,297.57 141.01,299.18 142.79,299.06 143.55,300.67 145.32,300.56 146.08,302.17 147.85,302.06 148.61,303.66 150.39,303.55 151.15,305.16 152.92,305.05 153.68,306.65 155.45,306.54 156.21,308.15 157.99,308.04 158.75,309.64 160.52,309.53 161.28,311.14 163.05,311.03 163.81,312.64 165.59,312.52 166.42,314.16 168.20,313.80 169.25,315.29 171.03,314.92 172.08,316.41 173.86,316.04 174.91,317.53 176.69,317.17 177.74,318.66 179.52,318.29 180.57,319.78 182.35,319.41 183.40,320.90 185.17,320.53 186.19,321.96 187.90,321.51 188.92,322.94 190.62,322.49 191.65,323.92 193.35,323.48 194.38,324.91 196.08,324.46 197.10,325.89 198.81,325.44 199.94,326.90 201.66,326.10 203.14,327.30 205.29,326.90 204.61,328.61 205.89,329.94 205.21,331.65 206.49,332.97 205.81,334.68 207.08,335.96 206.59,337.84 208.01,339.16 207.50,340.97 208.71,342.43 207.94,344.17 209.15,345.63 208.37,347.37 209.58,348.83 209.12,350.97 211.59,351.10 210.94,352.87 212.26,354.23 211.62,356.05 213.01,357.12 212.49,358.78 213.88,359.85 213.34,361.47 214.72,362.49 214.18,364.11 215.56,365.13 215.22,367.01 216.80,367.50" fill="none" stroke="#ffab00" stroke-width="1.25" stroke-linejoin="round"/>
<polyline points="47.21,230.20 48.99,230.27 49.60,231.94 51.38,232.00 51.99,233.68 53.77,233.74 54.38,235.42 56.16,235.48 56.77,237.16 58.55,237.22 59.16,238.90 60.95,238.96 61.55,240.64 63.34,240.70 63.95,242.38 65.73,242.44 66.34,244.12 68.12,244.18 68.73,245.86 70.51,245.92 71.12,247.60 72.90,247.66 73.51,249.33 75.30,249.40 75.89,251.09 77.68,251.18 78.27,252.87 80.06,252.96 80.65,254.65 82.44,254.74 83.03,256.43 84.82,256.52 85.41,258.21 87.20,258.30 87.80,260.00 89.59,260.09 90.18,261.78 91.97,261.87 92.56,263.56 94.35,263.65 94.94,265.34 96.73,265.43 97.32,267.12 99.11,267.21 99.70,268.90 101.49,268.99 102.08,270.68 103.87,270.77 104.46,272.46 106.25,272.55 106.84,274.24 108.63,274.33 109.22,276.02 111.01,276.11 111.61,277.81 113.39,277.89 113.99,279.59 115.78,279.68 116.37,281.37 118.16,281.46 118.75,283.15 120.54,283.24 121.13,284.93 122.92,285.02 123.51,286.71 125.26,286.77 126.04,288.40 127.86,288.31 128.64,289.95 130.46,289.86 131.24,291.49 133.06,291.40 133.84,293.03 135.66,292.95 136.44,294.58 138.26,294.49 139.04,296.12 140.86,296.03 141.64,297.66 143.46,297.58 144.24,299.21 146.06,299.12 146.84,300.75 148.66,300.66 149.44,302.30 151.26,302.21 152.04,303.84 153.86,303.75 154.64,305.38 156.46,305.30 157.24,306.93 159.06,306.84 159.84,308.47 161.66,308.38 162.44,310.01 164.26,309.93 165.04,311.56 166.78,311.43 167.84,312.91 169.61,312.53 170.67,314.00 172.44,313.62 173.50,315.10 175.27,314.71 176.33,316.19 178.10,315.80 179.16,317.28 180.93,316.90 181.99,318.37 183.76,317.99 184.81,319.46 186.55,319.08 187.54,320.56 189.28,320.17 190.27,321.65 192.00,321.26 193.00,322.74 194.73,322.35 195.72,323.83 197.46,323.44 198.45,324.92 200.15,324.52 201.24,325.91 202.92,325.38 204.01,326.76 205.69,326.24 206.78,327.62 208.46,327.09 209.28,328.27 210.87,328.91 210.78,330.62 212.37,331.26 212.20,332.73 213.30,334.16 212.40,335.72 213.50,337.14 212.60,338.70 213.70,340.12 212.80,341.68 213.90,343.10 213.00,344.66 214.10,346.08 213.20,347.64 213.91,348.61 215.19,349.94 217.29,349.73 216.54,351.47 217.76,352.93 217.02,354.73 218.33,355.82 217.72,357.43 219.03,358.52 218.41,360.09 219.65,361.27 218.93,362.81 220.17,363.99 219.45,365.53 220.20,366.80" fill="none" stroke="#5cb030" stroke-width="1.25" stroke-linejoin="round"/>
<polyline points="47.21,227.51 49.04,227.57 49.71,229.27 51.54,229.34 52.21,231.04 54.04,231.10 54.71,232.80 56.54,232.86 57.21,234.56 59.04,234.63 59.71,236.33 61.54,236.39 62.21,238.09 64.04,238.16 64.71,239.85 66.54,239.92 67.21,241.62 69.04,241.68 69.71,243.38 71.54,243.45 72.21,245.14 74.04,245.21 74.70,246.90 76.49,246.98 77.08,248.67 78.87,248.75 79.46,250.43 81.25,250.52 81.84,252.20 83.63,252.28 84.23,253.97 86.01,254.05 86.61,255.73 88.39,255.82 88.99,257.50 90.77,257.58 91.37,259.27 93.16,259.35 93.75,261.03 95.54,261.12 96.13,262.80 97.92,262.88 98.51,264.57 100.30,264.65 100.89,266.33 102.68,266.42 103.27,268.10 105.06,268.18 105.65,269.87 107.44,269.95 108.04,271.63 109.82,271.72 110.42,273.40 112.20,273.48 112.80,275.17 114.58,275.25 115.18,276.93 116.96,277.02 117.56,278.70 119.35,278.78 119.94,280.47 121.73,280.55 122.32,282.23 124.11,282.32 124.72,284.01 126.54,284.04 127.24,285.72 129.06,285.74 129.76,287.42 131.58,287.44 132.28,289.12 134.10,289.15 134.80,290.83 136.63,290.85 137.33,292.53 139.15,292.55 139.85,294.23 141.67,294.26 142.37,295.94 144.19,295.96 144.89,297.64 146.71,297.66 147.41,299.34 149.23,299.36 149.93,301.04 151.75,301.07 152.45,302.75 154.27,302.77 154.97,304.45 156.80,304.47 157.50,306.15 159.32,306.18 160.02,307.86 161.84,307.88 162.54,309.56 164.36,309.58 165.06,311.26 166.81,311.24 167.81,312.79 169.64,312.52 170.64,314.07 172.47,313.80 173.47,315.35 175.30,315.07 176.30,316.63 178.13,316.35 179.13,317.90 180.96,317.63 181.96,319.18 183.79,318.91 184.81,320.46 186.55,320.09 187.54,321.57 189.28,321.20 190.27,322.68 192.01,322.31 192.99,323.79 194.73,323.42 195.72,324.90 197.46,324.53 198.45,326.01 200.24,325.66 201.24,327.34 203.19,327.26 204.19,328.94 206.08,328.84 207.08,330.30 208.80,329.92 209.80,331.38 211.52,331.00 212.63,332.49 214.37,331.74 215.83,332.96 217.37,332.22 219.23,332.75 220.57,331.35 222.47,331.87 223.80,330.64 225.00,329.06 224.70,327.30" fill="none" stroke="#cc1a48" stroke-width="1.25" stroke-linejoin="round"/>
<circle cx="166" cy="311.7" r="1.7" fill="#f00"/>
<circle cx="204.8" cy="327" r="1.7" fill="#4d4dff"/>
<circle cx="209.7" cy="328" r="1.7" fill="#4d4dff"/>
<line x1="47.50" y1="311.50" x2="58.37" y2="307.71" stroke="#111" stroke-width="1.15"/>
<polygon points="63.00,306.10 58.66,310.05 57.14,305.70" fill="#111"/>
<text x="64.30" y="308.60" font-size="12" text-anchor="start" >0.199</text>
<line x1="47.50" y1="327.30" x2="58.40" y2="323.29" stroke="#111" stroke-width="1.15"/>
<polygon points="63.00,321.60 58.73,325.62 57.14,321.31" fill="#111"/>
<text x="64.30" y="323.70" font-size="12" text-anchor="start" >0.149</text>
<line x1="47.50" y1="327.30" x2="58.76" y2="333.84" stroke="#111" stroke-width="1.15"/>
<polygon points="63.00,336.30 57.18,335.58 59.49,331.60" fill="#111"/>
<text x="64.30" y="341.60" font-size="12" text-anchor="start" >0.146</text>
<text x="146.00" y="367.90" font-size="12" text-anchor="start" >576</text>
<text x="186.70" y="367.90" font-size="12" text-anchor="start" >762</text>
<text x="211.10" y="367.90" font-size="12" text-anchor="start" >782</text>
<path d="M87.1 231.35H105.3" stroke="#cc1a48" stroke-width="1.15"/>
<text x="106.50" y="234.45" font-size="9.8" text-anchor="start" class="lg">Random Attacks</text>
<path d="M87.1 240.40H105.3" stroke="#ffab00" stroke-width="1.15"/>
<text x="106.50" y="243.50" font-size="9.8" text-anchor="start" class="lg">Maximum-degree Attacks</text>
<path d="M87.1 249.45H105.3" stroke="#5cb030" stroke-width="1.15"/>
<text x="106.50" y="252.55" font-size="9.8" text-anchor="start" class="lg">Maximum-betweenness Attacks</text>
<text x="123.05" y="396.70" font-size="11.6" text-anchor="start" >Rounds</text>
<text x="161.80" y="396.70" font-size="11.6" text-anchor="start" >(&#215;10<tspan font-size="6.4" dx="0.7" dy="-3.7">2</tspan><tspan dx="0.3" dy="3.7">)</tspan></text>
<text x="0" y="0" font-size="12.35" text-anchor="middle" transform="translate(16.80,300.8) rotate(-90)">Average residual energy / J</text>
<text x="41.25" y="410.70" font-size="12.3" text-anchor="start" textLength="147.3">(d) Average residual energy at</text>
<text x="192.26" y="410.70" font-size="12.3" text-anchor="start" font-style="italic">N</text>
<text x="203.28" y="410.70" font-size="13.7" text-anchor="start" >=</text>
<text x="214.49" y="410.70" font-size="12.4" text-anchor="start" >1100</text>
<path d="M293.5 221.5H480.5" stroke="#3a3a3a" stroke-width="1"/>
<path d="M480.5 221.5V371.5" stroke="#888" stroke-width="1"/>
<path d="M293.5 371.5H480.5" stroke="#777" stroke-width="1"/>
<path d="M293.5 221.5V371.5" stroke="#555" stroke-width="1"/>
<path d="M312.20 371.5V369.5" stroke="#777" stroke-width="0.9"/>
<path d="M330.90 371.5V369.5" stroke="#777" stroke-width="0.9"/>
<path d="M349.60 371.5V369.5" stroke="#777" stroke-width="0.9"/>
<path d="M368.30 371.5V369.5" stroke="#777" stroke-width="0.9"/>
<path d="M387.00 371.5V369.5" stroke="#777" stroke-width="0.9"/>
<path d="M405.70 371.5V369.5" stroke="#777" stroke-width="0.9"/>
<path d="M424.40 371.5V369.5" stroke="#777" stroke-width="0.9"/>
<path d="M443.10 371.5V369.5" stroke="#777" stroke-width="0.9"/>
<path d="M461.80 371.5V369.5" stroke="#777" stroke-width="0.9"/>
<path d="M293.5 341.50H295.5" stroke="#777" stroke-width="0.9"/>
<path d="M293.5 311.50H295.5" stroke="#777" stroke-width="0.9"/>
<path d="M293.5 281.50H295.5" stroke="#777" stroke-width="0.9"/>
<path d="M293.5 251.50H295.5" stroke="#777" stroke-width="0.9"/>
<text x="286.50" y="343.80" font-size="12" text-anchor="end" >0.1</text>
<text x="286.50" y="313.80" font-size="12" text-anchor="end" >0.2</text>
<text x="286.50" y="283.80" font-size="12" text-anchor="end" >0.3</text>
<text x="286.50" y="253.80" font-size="12" text-anchor="end" >0.4</text>
<text x="286.50" y="223.80" font-size="12" text-anchor="end" >0.5</text>
<text x="293.80" y="385.50" font-size="12" text-anchor="middle" >0</text>
<text x="312.50" y="385.50" font-size="12" text-anchor="middle" >1</text>
<text x="331.20" y="385.50" font-size="12" text-anchor="middle" >2</text>
<text x="349.90" y="385.50" font-size="12" text-anchor="middle" >3</text>
<text x="368.60" y="385.50" font-size="12" text-anchor="middle" >4</text>
<text x="387.30" y="385.50" font-size="12" text-anchor="middle" >5</text>
<text x="406.00" y="385.50" font-size="12" text-anchor="middle" >6</text>
<text x="424.70" y="385.50" font-size="12" text-anchor="middle" >7</text>
<text x="443.40" y="385.50" font-size="12" text-anchor="middle" >8</text>
<text x="462.10" y="385.50" font-size="12" text-anchor="middle" >9</text>
<text x="480.80" y="385.50" font-size="12" text-anchor="middle" >10</text>
<path d="M293.5 306.2H402.4" stroke="#f46474" stroke-width="1.0"/>
<path d="M295.5 306.2H402.4" stroke="#e8303f" stroke-width="1.0" stroke-dasharray="1.2 3.6"/>
<path d="M293.5 324.5H449.5" stroke="#4d4dff" stroke-width="1.0"/>
<path d="M295.5 324.5H449.5" stroke="#1c1ce6" stroke-width="1.0" stroke-dasharray="1.2 3.6"/>
<path d="M293.5 326.3H449.5" stroke="#4d4dff" stroke-width="1.0"/>
<path d="M295.5 326.3H449.5" stroke="#1c1ce6" stroke-width="1.0" stroke-dasharray="1.2 3.6"/>
<path d="M402.2 306.2V371.5" stroke="#f46474" stroke-width="1.0"/>
<path d="M402.2 308.2V371.5" stroke="#e8303f" stroke-width="1.0" stroke-dasharray="1.2 3.6"/>
<path d="M447.5 324.5V371.5" stroke="#4d4dff" stroke-width="1.0"/>
<path d="M447.5 326.5V371.5" stroke="#1c1ce6" stroke-width="1.0" stroke-dasharray="1.2 3.6"/>
<path d="M449.4 325V371.5" stroke="#4d4dff" stroke-width="1.0"/>
<path d="M449.4 327V371.5" stroke="#1c1ce6" stroke-width="1.0" stroke-dasharray="1.2 3.6"/>
<polyline points="293.21,229.91 295.00,229.96 295.62,231.64 297.41,231.70 298.03,233.38 299.82,233.44 300.43,235.11 302.22,235.17 302.84,236.85 304.63,236.91 305.25,238.59 307.04,238.64 307.66,240.32 309.45,240.38 310.07,242.06 311.86,242.12 312.48,243.80 314.27,243.85 314.89,245.53 316.68,245.59 317.30,247.27 319.09,247.33 319.69,248.99 321.49,249.14 322.04,250.86 323.84,251.01 324.40,252.72 326.19,252.87 326.75,254.59 328.55,254.73 329.10,256.45 330.90,256.60 331.45,258.32 333.25,258.46 333.81,260.18 335.60,260.33 336.16,262.04 337.96,262.19 338.51,263.91 340.31,264.06 340.87,265.77 342.66,265.92 343.22,267.64 345.02,267.79 345.57,269.50 347.37,269.65 347.92,271.37 349.72,271.52 350.28,273.23 352.08,273.38 352.63,275.10 354.43,275.25 354.98,276.96 356.78,277.11 357.34,278.83 359.13,278.98 359.70,280.70 361.50,280.78 362.10,282.47 363.90,282.55 364.50,284.24 366.30,284.32 366.90,286.01 368.70,286.09 369.30,287.77 371.10,287.85 371.70,289.54 373.50,289.62 374.10,291.31 375.90,291.39 376.50,293.08 378.30,293.16 378.90,294.85 380.70,294.93 381.30,296.61 383.10,296.69 383.70,298.38 385.50,298.46 386.10,300.15 387.90,300.23 388.50,301.92 390.19,301.94 391.18,303.44 392.95,303.09 393.94,304.59 395.70,304.25 396.70,305.75 398.46,305.41 399.45,306.91 401.22,306.56 402.16,308.04 403.95,307.86 404.78,309.44 406.57,309.26 407.40,310.84 409.19,310.66 410.02,312.24 411.81,312.06 412.64,313.64 414.43,313.46 415.40,315.09 417.10,314.42 418.40,315.72 420.10,315.05 421.40,316.35 423.10,315.68 424.40,316.98 426.23,316.35 427.10,317.91 428.87,317.69 429.74,319.25 431.51,319.02 432.39,320.58 434.16,320.35 435.03,321.91 436.80,321.69 437.80,323.29 439.48,322.63 440.74,323.92 442.42,323.25 443.68,324.55 445.36,323.88 446.62,325.17 448.69,324.90 448.04,326.70 449.34,328.10 448.69,329.90 449.99,331.32 449.24,332.95 450.46,334.25 449.71,335.88 450.93,337.19 450.17,338.81 451.35,339.97 451.15,341.79 452.75,342.71 452.52,344.45 453.91,345.52 453.39,347.18 454.52,347.95 455.22,349.22 456.53,350.35 455.92,351.97 457.23,353.10 456.61,354.69 457.85,355.87 457.13,357.41 458.37,358.59 457.65,360.13 458.88,361.26 458.39,363.14 459.81,364.46 459.80,366.20" fill="none" stroke="#ffab00" stroke-width="1.25" stroke-linejoin="round"/>
<polyline points="293.21,229.91 294.99,229.95 295.62,231.63 297.40,231.67 298.03,233.34 299.81,233.39 300.44,235.06 302.22,235.11 302.85,236.78 304.63,236.82 305.26,238.50 307.04,238.54 307.66,240.22 309.45,240.26 310.07,241.93 311.86,241.98 312.48,243.65 314.27,243.70 314.89,245.37 316.68,245.42 317.30,247.09 319.09,247.13 319.69,248.80 321.48,248.92 322.05,250.62 323.84,250.74 324.40,252.44 326.19,252.56 326.75,254.27 328.54,254.39 329.11,256.09 330.89,256.21 331.46,257.91 333.25,258.03 333.81,259.74 335.60,259.86 336.16,261.56 337.95,261.68 338.52,263.38 340.31,263.50 340.87,265.21 342.66,265.33 343.22,267.03 345.01,267.15 345.58,268.85 347.37,268.98 347.93,270.68 349.72,270.80 350.28,272.50 352.07,272.62 352.63,274.32 354.42,274.45 354.99,276.15 356.78,276.27 357.34,277.97 359.13,278.09 359.72,279.81 361.53,279.84 362.22,281.51 364.03,281.54 364.72,283.21 366.53,283.24 367.22,284.91 369.03,284.94 369.72,286.61 371.53,286.64 372.22,288.31 374.03,288.34 374.72,290.01 376.53,290.04 377.22,291.71 379.03,291.74 379.72,293.41 381.53,293.44 382.22,295.11 384.03,295.14 384.72,296.81 386.53,296.84 387.22,298.51 389.03,298.54 389.79,300.25 391.59,299.99 392.54,301.54 394.35,301.28 395.30,302.83 397.10,302.57 398.05,304.12 399.86,303.86 400.81,305.41 402.58,305.14 403.67,306.64 405.50,306.29 406.58,307.80 408.41,307.45 409.49,308.95 411.32,308.60 412.40,310.11 414.23,309.76 415.30,311.26 417.02,310.93 417.93,312.43 419.65,312.10 420.55,313.60 422.27,313.27 423.18,314.77 424.90,314.44 425.82,315.95 427.54,315.62 428.46,317.13 430.18,316.80 431.10,318.31 432.82,317.98 433.74,319.49 435.46,319.16 436.38,320.67 438.06,320.33 439.16,321.75 440.89,321.27 441.98,322.69 443.72,322.21 444.81,323.63 446.54,323.15 447.69,324.59 449.98,324.38 449.37,325.99 450.68,327.11 450.07,328.72 451.38,329.84 450.77,331.46 452.04,332.46 451.86,334.19 453.02,334.70 454.48,335.76 456.02,334.82 457.48,335.88 459.02,334.94 460.01,335.58 461.25,337.04 460.53,338.82 461.77,340.28 461.05,342.06 462.25,343.37 462.05,345.19 463.65,346.11 463.40,347.72 464.45,349.15 463.51,350.66 464.56,352.09 463.62,353.60 464.67,355.03 463.72,356.53 464.78,357.97 463.83,359.47 464.88,360.90 463.94,362.41 464.99,363.84 464.05,365.35 464.64,366.30 466.18,367.44 467.88,366.58 469.42,367.72 471.12,366.86 472.70,367.50" fill="none" stroke="#5cb030" stroke-width="1.25" stroke-linejoin="round"/>
<polyline points="293.21,227.51 294.99,227.53 295.62,229.18 297.40,229.20 298.03,230.86 299.81,230.87 300.44,232.53 302.22,232.54 302.85,234.20 304.63,234.22 305.26,235.87 307.04,235.89 307.67,237.55 309.44,237.56 310.08,239.22 311.85,239.23 312.49,240.89 314.26,240.91 314.90,242.57 316.67,242.58 317.31,244.24 319.08,244.25 319.69,245.90 321.48,246.02 322.05,247.72 323.84,247.84 324.40,249.54 326.19,249.66 326.75,251.37 328.54,251.49 329.11,253.19 330.89,253.31 331.46,255.01 333.25,255.13 333.81,256.84 335.60,256.96 336.16,258.66 337.95,258.78 338.52,260.48 340.31,260.60 340.87,262.31 342.66,262.43 343.22,264.13 345.01,264.25 345.58,265.95 347.37,266.08 347.93,267.78 349.72,267.90 350.28,269.60 352.07,269.72 352.63,271.42 354.42,271.55 354.99,273.25 356.78,273.37 357.34,275.07 359.13,275.19 359.70,276.90 361.50,276.98 362.10,278.67 363.90,278.75 364.50,280.44 366.30,280.52 366.90,282.21 368.70,282.29 369.30,283.97 371.10,284.05 371.70,285.74 373.50,285.82 374.10,287.51 375.90,287.59 376.50,289.28 378.30,289.36 378.90,291.05 380.70,291.13 381.30,292.81 383.10,292.89 383.70,294.58 385.50,294.66 386.10,296.35 387.90,296.43 388.50,298.12 390.26,298.17 390.98,299.77 392.74,299.65 393.46,301.25 395.22,301.13 395.94,302.73 397.70,302.61 398.42,304.21 400.18,304.09 400.90,305.69 402.67,305.58 403.44,307.24 405.29,307.22 406.06,308.88 407.91,308.86 408.68,310.52 410.53,310.50 411.30,312.16 413.15,312.14 413.92,313.80 415.68,313.73 416.82,315.24 418.68,314.88 419.82,316.38 421.68,316.02 422.82,317.52 424.68,317.16 425.78,318.65 427.54,318.41 428.42,319.96 430.19,319.72 431.07,321.27 432.83,321.03 433.71,322.58 435.48,322.34 436.36,323.89 438.04,323.62 439.30,325.01 441.10,324.49 442.36,325.88 444.17,325.35 445.43,326.75 447.34,326.26 448.06,327.79 449.67,327.53 450.70,328.97 452.42,328.53 453.45,329.97 455.08,329.51 456.28,330.73 457.82,329.97 459.02,331.19 460.55,330.44 461.75,331.66 463.32,330.91 464.43,332.21 466.02,331.56 467.13,332.86 468.60,332.70" fill="none" stroke="#cc1a48" stroke-width="1.25" stroke-linejoin="round"/>
<circle cx="402.4" cy="306.1" r="1.7" fill="#f00"/>
<circle cx="448.2" cy="323.9" r="1.7" fill="#4d4dff"/>
<circle cx="449.5" cy="325.2" r="1.7" fill="#4d4dff"/>
<line x1="293.50" y1="306.20" x2="304.39" y2="302.26" stroke="#111" stroke-width="1.15"/>
<polygon points="309.00,300.60 304.70,304.60 303.14,300.27" fill="#111"/>
<text x="310.30" y="302.90" font-size="12" text-anchor="start" >0.219</text>
<line x1="293.50" y1="324.40" x2="304.32" y2="321.05" stroke="#111" stroke-width="1.15"/>
<polygon points="309.00,319.60 304.52,323.39 303.16,319.00" fill="#111"/>
<text x="310.30" y="321.30" font-size="12" text-anchor="start" >0.156</text>
<line x1="293.50" y1="326.20" x2="304.65" y2="331.95" stroke="#111" stroke-width="1.15"/>
<polygon points="309.00,334.20 303.15,333.77 305.26,329.68" fill="#111"/>
<text x="310.30" y="338.10" font-size="12" text-anchor="start" >0.153</text>
<text x="382.20" y="367.90" font-size="12" text-anchor="start" >583</text>
<text x="427.90" y="367.90" font-size="12" text-anchor="start" >815</text>
<text x="451.80" y="367.90" font-size="12" text-anchor="start" >827</text>
<path d="M333.5 231.35H351.7" stroke="#cc1a48" stroke-width="1.15"/>
<text x="353.30" y="234.45" font-size="9.8" text-anchor="start" class="lg">Random Attacks</text>
<path d="M333.5 240.40H351.7" stroke="#ffab00" stroke-width="1.15"/>
<text x="353.30" y="243.50" font-size="9.8" text-anchor="start" class="lg">Maximum-degree Attacks</text>
<path d="M333.5 249.45H351.7" stroke="#5cb030" stroke-width="1.15"/>
<text x="353.30" y="252.55" font-size="9.8" text-anchor="start" class="lg">Maximum-betweenness Attacks</text>
<text x="371.75" y="396.70" font-size="11.6" text-anchor="start" >Rounds</text>
<text x="409.60" y="396.70" font-size="11.6" text-anchor="start" >(&#215;10<tspan font-size="6.4" dx="0.7" dy="-3.7">2</tspan><tspan dx="0.3" dy="3.7">)</tspan></text>
<text x="0" y="0" font-size="12.35" text-anchor="middle" transform="translate(262.80,298.7) rotate(-90)">Average residual energy / J</text>
<text x="290.45" y="410.70" font-size="12.3" text-anchor="start" textLength="147.3">(e) Average residual energy at</text>
<text x="440.66" y="410.70" font-size="12.3" text-anchor="start" font-style="italic">N</text>
<text x="451.28" y="410.70" font-size="13.7" text-anchor="start" >=</text>
<text x="461.99" y="410.70" font-size="12.4" text-anchor="start" >1200</text>
<line x1="709.60" y1="162.30" x2="700.56" y2="148.32" stroke="#111" stroke-width="1.15"/>
<polygon points="697.90,144.20 702.76,147.49 698.90,149.98" fill="#111"/>
<text x="682.30" y="142.30" font-size="12" text-anchor="start" >722</text>
</g>
</svg>
</body></html>
